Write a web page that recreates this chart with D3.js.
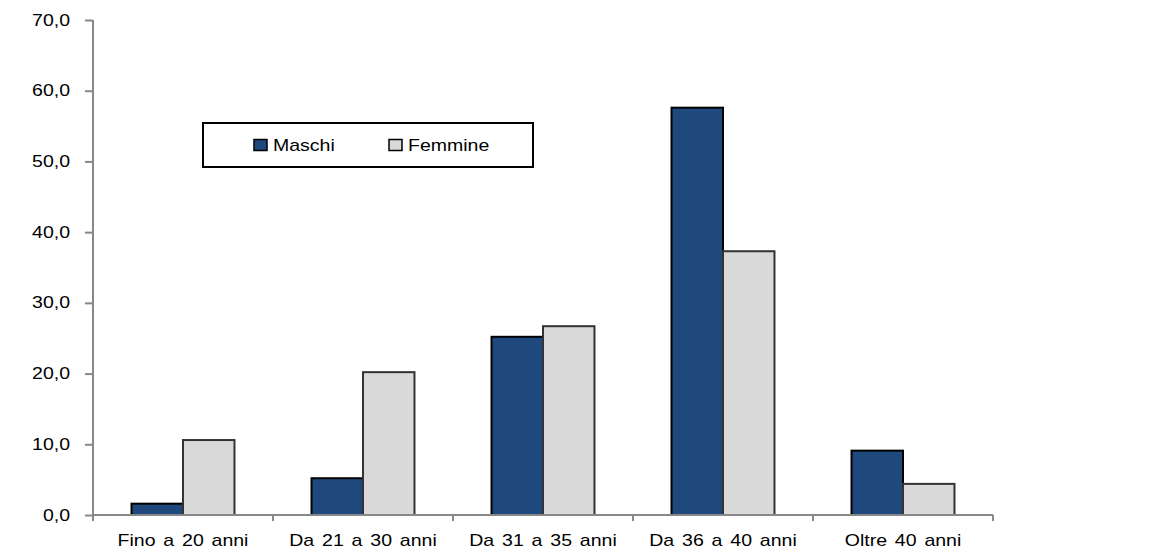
<!DOCTYPE html>
<html>
<head>
<meta charset="utf-8">
<script src="https://cdn.jsdelivr.net/npm/d3@7"></script>
<style>
  body { margin: 0; background: #fff; }
  svg { display: block; font-family: "Liberation Sans", Arial, sans-serif; }
</style>
</head>
<body>
<svg id="chart" width="1176" height="559"></svg>
<script>
// Age groups and percentage values per sex
const categories = ["Fino a 20 anni", "Da 21 a 30 anni", "Da 31 a 35 anni", "Da 36 a 40 anni", "Oltre 40 anni"];
const maschi = [1.6, 5.2, 25.2, 57.6, 9.1];
const femmine = [10.6, 20.2, 26.7, 37.3, 4.4];
const seriesNames = ["Maschi", "Femmine"];
const yTicks = [0, 10, 20, 30, 40, 50, 60, 70];

const fills = { Maschi: "#1f497d", Femmine: "#d9d9d9" };
const strokes = { Maschi: "#000", Femmine: "#333" };
const TEXT_STRETCH = 1.22; // wide lettering

const svg = d3.select("#chart");
const plotLeft = 93, plotRight = 993, plotTop = 20, plotBottom = 515;

const x0 = d3.scaleBand().domain(categories).range([plotLeft, plotRight]).padding(0);
const x1 = d3.scaleBand().domain(seriesNames)
  .range([x0.bandwidth() * 0.214, x0.bandwidth() * 0.786]).padding(0);
const y = d3.scaleLinear().domain([0, 70]).range([plotBottom, plotTop]);

const rows = categories.map((c, i) => ({ cat: c, Maschi: maschi[i], Femmine: femmine[i] }));

// Places a text at (x, y) with horizontally stretched glyphs
function placeText(sel, x, y) {
  return sel.attr("x", 0).attr("y", 0)
    .attr("transform", `translate(${x},${y}) scale(${TEXT_STRETCH},1)`);
}

// Bars
const groups = svg.append("g").selectAll("g").data(rows).join("g")
  .attr("transform", d => `translate(${x0(d.cat)},0)`);
groups.selectAll("rect")
  .data(d => seriesNames.map(k => ({ key: k, value: d[k] })))
  .join("rect")
  .attr("x", d => x1(d.key))
  .attr("width", x1.bandwidth())
  .attr("y", d => y(d.value))
  .attr("height", d => y(0) - y(d.value))
  .attr("fill", d => fills[d.key])
  .attr("stroke", d => strokes[d.key])
  .attr("stroke-width", 2);

const fmt = v => d3.format(".1f")(v).replace(".", ",");

// Y axis
const yAxis = svg.append("g").attr("transform", `translate(${plotLeft},0)`)
  .call(d3.axisLeft(y).tickValues(yTicks).tickFormat(fmt).tickSize(8).tickPadding(15));
yAxis.select(".domain").attr("stroke", "#888").attr("stroke-width", 2)
  .attr("d", `M0,${plotTop}V${plotBottom}`);
yAxis.selectAll(".tick line").attr("stroke", "#888").attr("stroke-width", 2);
yAxis.selectAll(".tick text").attr("font-size", 16).attr("fill", "#000")
  .attr("font-family", "Liberation Sans, Arial, sans-serif")
  .attr("x", -23 / TEXT_STRETCH)
  .attr("transform", `scale(${TEXT_STRETCH},1)`);

// X axis with ticks on category boundaries
const xAxis = svg.append("g").attr("transform", `translate(0,${plotBottom})`);
xAxis.append("line").attr("x1", plotLeft).attr("x2", plotRight).attr("y1", 0).attr("y2", 0)
  .attr("stroke", "#888").attr("stroke-width", 2);
const bounds = categories.map(c => x0(c)).concat([x0(categories[categories.length - 1]) + x0.bandwidth()]);
xAxis.selectAll("line.tk").data(bounds).join("line").attr("class", "tk")
  .attr("x1", d => d).attr("x2", d => d).attr("y1", 0).attr("y2", 6)
  .attr("stroke", "#888").attr("stroke-width", 2);
xAxis.selectAll("text").data(categories).join("text")
  .each(function (d) { placeText(d3.select(this), x0(d) + x0.bandwidth() / 2, 31); })
  .attr("text-anchor", "middle")
  .attr("font-size", 16)
  .attr("word-spacing", 2)
  .attr("fill", "#000")
  .text(d => d);

// Legend
const legend = svg.append("g");
legend.append("rect").attr("x", 203).attr("y", 123).attr("width", 330).attr("height", 44)
  .attr("fill", "#fff").attr("stroke", "#000").attr("stroke-width", 2);
const legendPos = [{ key: "Maschi", x: 254 }, { key: "Femmine", x: 389 }];
legendPos.forEach(p => {
  legend.append("rect").attr("x", p.x).attr("y", 139.5).attr("width", 13).attr("height", 11)
    .attr("fill", fills[p.key]).attr("stroke", "#000").attr("stroke-width", 1.5);
  placeText(legend.append("text"), p.x + 19, 151)
    .attr("font-size", 16)
    .attr("fill", "#000").text(p.key);
});
</script>
</body>
</html>
